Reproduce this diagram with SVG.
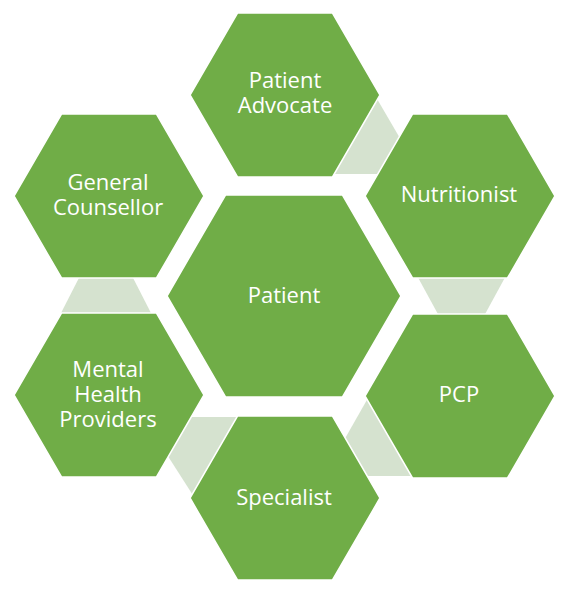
<svg xmlns="http://www.w3.org/2000/svg" width="568" height="589" viewBox="0 0 568 589">
<style>
.hex{fill:#70AD47;stroke:#FFFFFF;stroke-width:1.5}
.conn{fill:#D5E2CF;stroke:none}
.lbl{font-family:"Open Sans","Liberation Sans",sans-serif;font-size:22px;fill:#FFFFFF;text-anchor:middle}
</style>
<rect width="568" height="589" fill="#FFFFFF"/>
<g id="connectors">
<polygon class="conn" points="373,92 401,140 392,174 330,174"/>
<polygon class="conn" points="415,272 508,272 484,316 439,316"/>
<polygon class="conn" points="372,391 416,476 362,476 343,442"/>
<polygon class="conn" points="186,417 240,417 196,500 164,450"/>
<polygon class="conn" points="82,272 130,272 152,315 60,315"/>
</g>
<g id="patient-advocate">
<polygon class="hex" points="237.5,13 332.5,13 380,95 332.5,177 237.5,177 190,95"/>
<text class="lbl" x="285" y="88">Patient</text>
<text class="lbl" x="285" y="113">Advocate</text>
</g>
<g id="nutritionist">
<polygon class="hex" points="412.5,114 507.5,114 555,196 507.5,278 412.5,278 365,196"/>
<text class="lbl" x="459" y="202">Nutritionist</text>
</g>
<g id="pcp">
<polygon class="hex" points="412.5,314 507.5,314 555,396 507.5,478 412.5,478 365,396"/>
<text class="lbl" x="459" y="402">PCP</text>
</g>
<g id="specialist">
<polygon class="hex" points="237.5,416 332.5,416 380,498 332.5,580 237.5,580 190,498"/>
<text class="lbl" x="284" y="505">Specialist</text>
</g>
<g id="mental-health-providers">
<polygon class="hex" points="61.5,313 156.5,313 204,395 156.5,477 61.5,477 14,395"/>
<text class="lbl" x="108" y="377">Mental</text>
<text class="lbl" x="108" y="402">Health</text>
<text class="lbl" x="108" y="427">Providers</text>
</g>
<g id="general-counsellor">
<polygon class="hex" points="61.5,114 156.5,114 204,196 156.5,278 61.5,278 14,196"/>
<text class="lbl" x="108" y="190">General</text>
<text class="lbl" x="108" y="215">Counsellor</text>
</g>
<g id="patient">
<polygon class="hex" points="225.5,195 342.5,195 401,296 342.5,397 225.5,397 167,296"/>
<text class="lbl" x="284" y="303">Patient</text>
</g>
</svg>
